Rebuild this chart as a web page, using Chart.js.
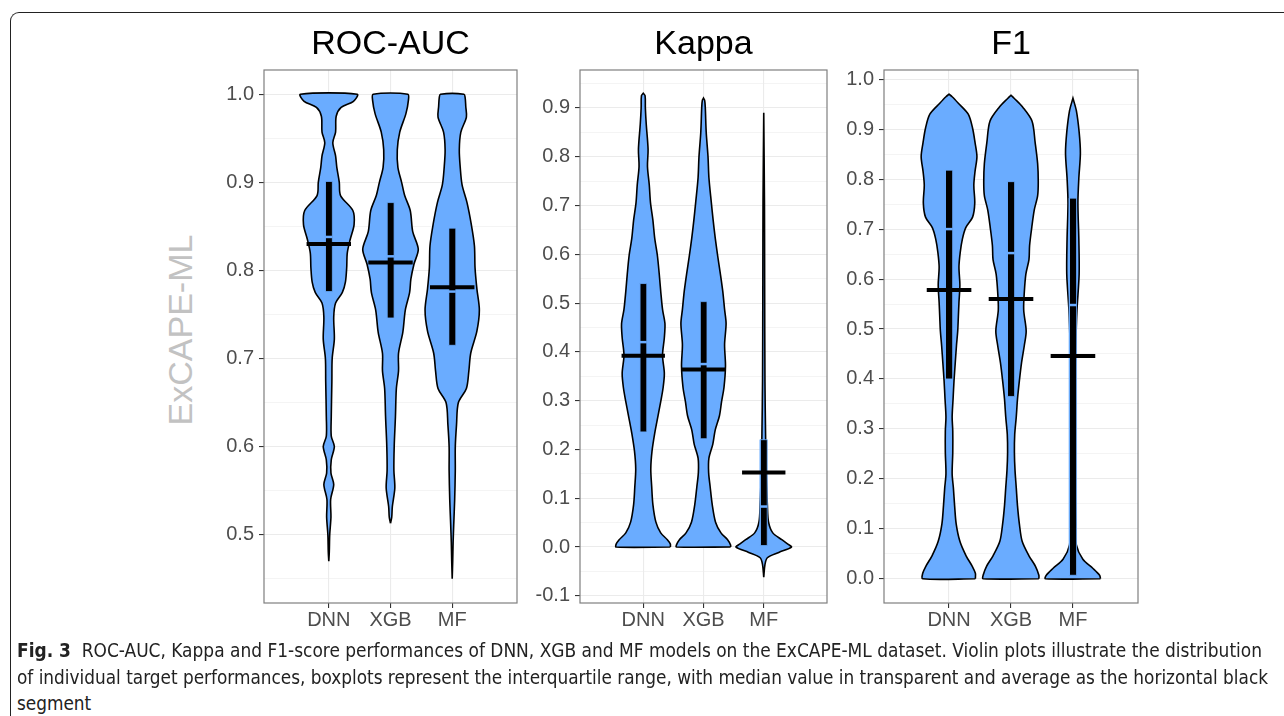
<!DOCTYPE html>
<html>
<head>
<meta charset="utf-8">
<script src="https://cdn.jsdelivr.net/npm/chart.js@4.4.0/dist/chart.umd.min.js"></script>
<style>
  body { margin: 0; width: 1284px; height: 716px; background: #fff; overflow: hidden; position: relative; font-family: "Liberation Sans", Arial, sans-serif; }
  #frame { position: absolute; left: 10px; top: 12px; width: 1300px; height: 760px; border-left: 1.5px solid #222; border-top: 1.5px solid #222; border-top-left-radius: 9px; }
  canvas { position: absolute; top: 0; }
  #ylab { position: absolute; left: 180px; top: 330px; transform: translate(-50%, -50%) rotate(-90deg); font-size: 34px; color: #c2c2c2; white-space: nowrap; }
  .cap { position: absolute; left: 17px; height: 26px; line-height: 26px; font-family: "Liberation Sans Narrow", "DejaVu Sans Condensed", "DejaVu Sans", sans-serif; font-stretch: condensed; font-size: 20px; color: #222; white-space: nowrap; transform-origin: 0 50%; }
</style>
</head>
<body>
<div id="frame"></div>
<canvas id="pAuc" width="320" height="640" style="left:200px"></canvas>
<canvas id="pKappa" width="310" height="640" style="left:520px"></canvas>
<canvas id="pF1" width="311" height="640" style="left:830px"></canvas>
<div id="ylab">ExCAPE-ML</div>
<div class="cap" id="cap1" style="top:637px"><b>Fig. 3</b>&nbsp; ROC-AUC, Kappa and F1-score performances of DNN, XGB and MF models on the ExCAPE-ML dataset. Violin plots illustrate the distribution</div>
<div class="cap" id="cap2" style="top:664px">of individual target performances, boxplots represent the interquartile range, with median value in transparent and average as the horizontal black</div>
<div class="cap" id="cap3" style="top:690px">segment</div>
<script>
const models = ['DNN', 'XGB', 'MF'];

// y tick labels of each panel
const aucTicks = [0.5, 0.6, 0.7, 0.8, 0.9, 1.0];
const kappaTicks = [-0.1, 0.0, 0.1, 0.2, 0.3, 0.4, 0.5, 0.6, 0.7, 0.8, 0.9];
const f1Ticks = [0.0, 0.1, 0.2, 0.3, 0.4, 0.5, 0.6, 0.7, 0.8, 0.9, 1.0];

// violin outlines: [score, half width of density], bottom to top
const aucDnn = [[0.47,0],[0.48,0.008],[0.50,0.015],[0.52,0.035],[0.54,0.03],[0.557,0.08],[0.57,0.035],[0.585,0.04],[0.60,0.09],[0.612,0.04],[0.634,0.04],[0.674,0.05],[0.70,0.055],[0.722,0.09],[0.747,0.08],[0.763,0.11],[0.775,0.22],[0.787,0.27],[0.803,0.29],[0.82,0.30],[0.836,0.35],[0.852,0.41],[0.868,0.39],[0.885,0.19],[0.90,0.17],[0.917,0.13],[0.93,0.11],[0.945,0.065],[0.957,0.11],[0.975,0.12],[0.985,0.2],[0.992,0.40],[1.0,0.46]];
const aucXgb = [[0.513,0],[0.52,0.02],[0.532,0.03],[0.553,0.07],[0.573,0.055],[0.60,0.06],[0.634,0.08],[0.666,0.095],[0.686,0.13],[0.706,0.13],[0.73,0.20],[0.755,0.24],[0.775,0.31],[0.79,0.33],[0.807,0.38],[0.824,0.45],[0.844,0.36],[0.868,0.32],[0.885,0.23],[0.90,0.18],[0.917,0.12],[0.937,0.11],[0.957,0.15],[0.978,0.25],[0.993,0.29],[1.0,0.28]];
const aucMf = [[0.45,0],[0.47,0.008],[0.492,0.015],[0.512,0.025],[0.54,0.04],[0.573,0.05],[0.60,0.05],[0.625,0.07],[0.65,0.10],[0.666,0.23],[0.686,0.27],[0.706,0.30],[0.731,0.40],[0.755,0.44],[0.779,0.40],[0.803,0.37],[0.828,0.36],[0.852,0.31],[0.877,0.24],[0.897,0.16],[0.917,0.13],[0.937,0.115],[0.957,0.14],[0.974,0.23],[0.986,0.22],[0.996,0.21],[1.0,0.19]];

const kappaDnn = [[0.0,0.45],[0.006,0.45],[0.015,0.40],[0.029,0.29],[0.051,0.21],[0.087,0.16],[0.124,0.14],[0.16,0.125],[0.196,0.145],[0.233,0.19],[0.269,0.245],[0.298,0.29],[0.327,0.33],[0.356,0.35],[0.393,0.32],[0.429,0.35],[0.458,0.36],[0.487,0.32],[0.524,0.29],[0.56,0.265],[0.597,0.235],[0.633,0.19],[0.67,0.16],[0.706,0.12],[0.742,0.10],[0.78,0.07],[0.815,0.08],[0.866,0.05],[0.90,0.035],[0.925,0.03],[0.93,0]];
const kappaXgb = [[0.0,0.45],[0.004,0.45],[0.015,0.40],[0.029,0.29],[0.051,0.20],[0.087,0.145],[0.124,0.11],[0.153,0.085],[0.182,0.09],[0.211,0.155],[0.24,0.195],[0.269,0.265],[0.298,0.30],[0.327,0.34],[0.371,0.365],[0.415,0.35],[0.458,0.375],[0.487,0.35],[0.524,0.32],[0.56,0.28],[0.597,0.235],[0.633,0.195],[0.67,0.16],[0.706,0.13],[0.757,0.09],[0.80,0.075],[0.85,0.045],[0.90,0.03],[0.915,0.02],[0.92,0]];
const kappaMf = [[-0.062,0],[-0.036,0.02],[-0.022,0.06],[-0.011,0.25],[0.0,0.46],[0.006,0.40],[0.015,0.30],[0.029,0.15],[0.051,0.08],[0.087,0.06],[0.16,0.04],[0.233,0.03],[0.34,0.02],[0.545,0.015],[0.706,0.012],[0.89,0]];

const f1Dnn = [[0.0,0.425],[0.011,0.425],[0.025,0.375],[0.046,0.275],[0.075,0.175],[0.11,0.115],[0.146,0.09],[0.182,0.07],[0.21,0.05],[0.253,0.06],[0.296,0.06],[0.324,0.05],[0.36,0.065],[0.396,0.08],[0.432,0.10],[0.467,0.12],[0.496,0.14],[0.524,0.15],[0.553,0.16],[0.588,0.175],[0.624,0.16],[0.653,0.18],[0.68,0.215],[0.703,0.27],[0.724,0.38],[0.752,0.415],[0.788,0.40],[0.816,0.42],[0.845,0.45],[0.873,0.42],[0.902,0.38],[0.93,0.31],[0.952,0.15],[0.965,0.05],[0.97,0]];
const f1Xgb = [[0.0,0.45],[0.007,0.45],[0.025,0.395],[0.046,0.29],[0.075,0.18],[0.11,0.135],[0.146,0.105],[0.182,0.085],[0.217,0.065],[0.253,0.055],[0.289,0.06],[0.324,0.085],[0.36,0.105],[0.396,0.135],[0.432,0.17],[0.467,0.215],[0.496,0.245],[0.538,0.205],[0.574,0.215],[0.61,0.24],[0.639,0.29],[0.667,0.30],[0.703,0.335],[0.738,0.375],[0.767,0.43],[0.795,0.44],[0.831,0.43],[0.873,0.39],[0.916,0.34],[0.944,0.19],[0.962,0.05],[0.968,0]];
const f1Mf = [[0.0,0.445],[0.007,0.43],[0.021,0.32],[0.039,0.16],[0.068,0.055],[0.11,0.045],[0.182,0.035],[0.253,0.03],[0.324,0.03],[0.396,0.032],[0.467,0.045],[0.538,0.065],[0.61,0.10],[0.68,0.095],[0.752,0.08],[0.802,0.095],[0.852,0.12],[0.894,0.10],[0.937,0.055],[0.962,0]];

// boxplot stats per model (DNN, XGB, MF)
const aucQ1 = [0.776, 0.746, 0.715];
const aucQ3 = [0.901, 0.877, 0.848];
const aucMedian = [0.838, 0.816, 0.776];
const aucMean = [0.830, 0.809, 0.781];

const kappaQ1 = [0.236, 0.222, 0.003];
const kappaQ3 = [0.540, 0.503, 0.220];
const kappaMedian = [0.420, 0.375, 0.083];
const kappaMean = [0.392, 0.364, 0.153];

const f1Q1 = [0.400, 0.365, 0.007];
const f1Q3 = [0.818, 0.795, 0.762];
const f1Median = [0.700, 0.652, 0.548];
const f1Mean = [0.578, 0.560, 0.446];

const violinColor = '#6aacff';
const font = '"Liberation Sans", Arial, sans-serif';

const panelFrame = {
    id: 'panelFrame',
    afterDatasetsDraw(chart, args, opts) {
        const a = chart.chartArea;
        const c = chart.ctx;
        c.save();
        c.strokeStyle = '#7f7f7f';
        c.lineWidth = 1.2;
        c.strokeRect(a.left, a.top, a.right - a.left, a.bottom - a.top);
        c.fillStyle = '#000';
        c.font = '34px ' + font;
        c.textAlign = 'center';
        c.textBaseline = 'middle';
        c.fillText(opts.text, (a.left + a.right) / 2, 45);
        c.restore();
    }
};

function makePanel(id, title, yMin, yMax, majors, axisWidth, shapes, q1, q3, median, mean) {
    const datasets = [];
    shapes.forEach((shape, i) => {
        const c = i + 1;
        const right = shape.map(p => ({ x: c + p[1], y: p[0] }));
        const left = shape.slice().reverse().map(p => ({ x: c - p[1], y: p[0] }));
        const pts = right.concat(left);
        pts.push(right[0]);
        datasets.push({
            data: pts, showLine: true, fill: 'shape', backgroundColor: violinColor,
            borderColor: '#000', borderWidth: 1.6, tension: 0.3, pointRadius: 0, order: 4
        });
        // interquartile box
        const bw = 0.058;
        datasets.push({
            data: [{ x: c - bw, y: q1[i] }, { x: c + bw, y: q1[i] }, { x: c + bw, y: q3[i] }, { x: c - bw, y: q3[i] }, { x: c - bw, y: q1[i] }],
            showLine: true, fill: 'shape', backgroundColor: '#000', borderColor: violinColor,
            borderWidth: 0.8, pointRadius: 0, order: 3
        });
        // median in the violin colour
        datasets.push({
            data: [{ x: c - bw, y: median[i] }, { x: c + bw, y: median[i] }],
            showLine: true, borderColor: violinColor, borderWidth: 2.5, pointRadius: 0, order: 2
        });
        // mean segment
        datasets.push({
            data: [{ x: c - 0.36, y: mean[i] }, { x: c + 0.36, y: mean[i] }],
            showLine: true, borderColor: '#000', borderWidth: 4, borderCapStyle: 'butt', pointRadius: 0, order: 1
        });
    });

    const step = majors[1] - majors[0];
    const isMajor = v => majors.some(m => Math.abs(m - v) < 1e-6);

    new Chart(document.getElementById(id), {
        type: 'scatter',
        data: { datasets: datasets },
        plugins: [panelFrame],
        options: {
            responsive: false,
            animation: false,
            layout: { padding: { top: 70, left: 0, right: 3, bottom: 0 } },
            plugins: {
                legend: { display: false },
                tooltip: { enabled: false },
                panelFrame: { text: title }
            },
            scales: {
                x: {
                    type: 'linear', min: -0.05, max: 4.05,
                    afterBuildTicks: ax => { ax.ticks = models.map((m, i) => ({ value: i + 1 })); },
                    afterFit: ax => { ax.height = 37; },
                    ticks: {
                        callback: (v, i) => models[i],
                        font: { size: 20, family: font }, color: '#4d4d4d', padding: 0,
                        autoSkip: false, maxRotation: 0
                    },
                    grid: { color: '#ebebeb', lineWidth: 1.1, tickColor: '#333', tickLength: 5 },
                    border: { display: false }
                },
                y: {
                    type: 'linear', min: yMin, max: yMax,
                    afterBuildTicks: ax => {
                        let vals = majors.concat(majors.map(m => m + step / 2), [majors[0] - step / 2]);
                        vals = vals.filter(v => v >= yMin && v <= yMax).sort((a, b) => a - b);
                        ax.ticks = vals.map(v => ({ value: v }));
                    },
                    afterFit: ax => { ax.width = axisWidth; },
                    ticks: {
                        callback: v => isMajor(v) ? v.toFixed(1) : '',
                        font: { size: 20, family: font }, color: '#4d4d4d', padding: 5, autoSkip: false
                    },
                    grid: {
                        color: '#ebebeb',
                        lineWidth: ctx => isMajor(ctx.tick.value) ? 1.1 : 0.55,
                        tickColor: ctx => isMajor(ctx.tick.value) ? '#333' : 'rgba(0,0,0,0)',
                        tickLength: 5
                    },
                    border: { display: false }
                }
            }
        }
    });
}

makePanel('pAuc', 'ROC-AUC', 0.4225, 1.0275, aucTicks, 64, [aucDnn, aucXgb, aucMf], aucQ1, aucQ3, aucMedian, aucMean);
makePanel('pKappa', 'Kappa', -0.1147, 0.9777, kappaTicks, 60, [kappaDnn, kappaXgb, kappaMf], kappaQ1, kappaQ3, kappaMedian, kappaMean);
makePanel('pF1', 'F1', -0.0485, 1.0185, f1Ticks, 54, [f1Dnn, f1Xgb, f1Mf], f1Q1, f1Q3, f1Median, f1Mean);

// fit caption lines to the printed width
function fitLine(id, target) {
    const el = document.getElementById(id);
    const s = target / el.getBoundingClientRect().width;
    el.style.transform = 'scaleX(' + s + ')';
    return s;
}
fitLine('cap1', 1245);
const s2 = fitLine('cap2', 1251);
document.getElementById('cap3').style.transform = 'scaleX(' + s2 + ')';
</script>
</body>
</html>
